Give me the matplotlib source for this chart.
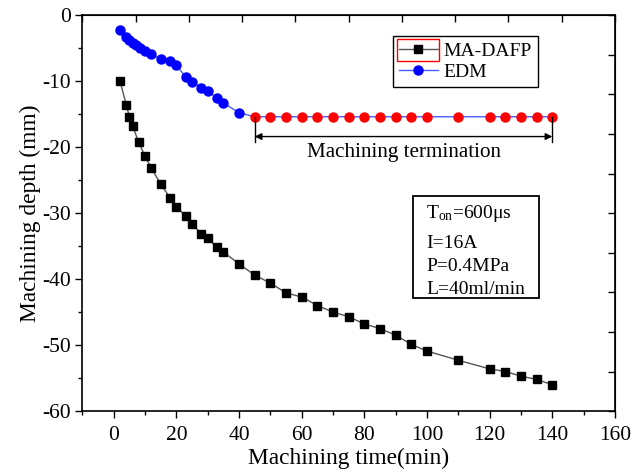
import numpy as np
import matplotlib
matplotlib.use("Agg")
import matplotlib.pyplot as plt
from matplotlib.patches import Rectangle

plt.rcParams['font.family'] = ['Liberation Serif', 'DejaVu Serif']
plt.rcParams['mathtext.fontset'] = 'custom'
plt.rcParams['mathtext.rm'] = 'Liberation Serif'
plt.rcParams['mathtext.it'] = 'Liberation Serif:italic'
plt.rcParams['axes.unicode_minus'] = False

# MA-DAFP data
t_dafp = [2, 4, 5, 6, 8, 10, 12, 15, 18, 20, 23, 25, 28, 30, 33, 35, 40, 45, 50, 55,
          60, 65, 70, 75, 80, 85, 90, 95, 100, 110, 120, 125, 130, 135, 140]
d_dafp = [-10.0, -13.6, -15.4, -16.8, -19.3, -21.4, -23.2, -25.6, -27.7, -29.0,
          -30.5, -31.7, -33.1, -33.8, -35.2, -35.9, -37.7, -39.4, -40.6, -42.1,
          -42.7, -44.0, -45.0, -45.7, -46.8, -47.5, -48.5, -49.9, -50.9, -52.3,
          -53.6, -54.0, -54.7, -55.2, -56.0]

# EDM data (machining part)
t_edm = [2, 4, 5, 6, 7, 8.5, 10, 12, 15, 18, 20, 23, 25, 28, 30, 33, 35, 40]
d_edm = [-2.3, -3.3, -3.8, -4.2, -4.5, -5.0, -5.4, -5.9, -6.7, -6.9, -7.6, -9.4,
         -10.1, -11.0, -11.5, -12.6, -13.3, -14.8]

# EDM after termination
t_stop = [45, 50, 55, 60, 65, 70, 75, 80, 85, 90, 95, 100, 110, 120, 125, 130, 135, 140]
d_stop = [-15.4] * len(t_stop)

params = ['T$_{\\rm on}$=600\u03bcs', 'I=16A', 'P=0.4MPa', 'L=40ml/min']
param_y = [-30.0, -34.6, -38.1, -41.5]

fig = plt.figure(figsize=(6.34, 4.72), dpi=100)
ax = fig.add_axes([0.130, 0.129, 0.840, 0.839])

ax.plot(t_dafp, d_dafp, color='#555555', lw=1, marker='s', ms=6,
        mfc='black', mec='black', label='MA-DAFP')
ax.plot(t_edm + t_stop, d_edm + d_stop, color='#4a5cff', lw=1, marker='o', ms=6.5,
        mfc='blue', mec='blue', markevery=list(range(len(t_edm))), label='EDM')
ax.plot(t_stop, d_stop, ls='none', marker='o', ms=6.5, mfc='red', mec='red')

# termination annotation
ax.plot([45, 45], [-15.4, -19.2], color='black', lw=1)
ax.plot([140, 140], [-15.4, -19.2], color='black', lw=1)
ax.annotate('', xy=(45, -18.4), xytext=(140, -18.4),
            arrowprops=dict(arrowstyle='<|-|>', color='black', lw=1,
                            mutation_scale=10, shrinkA=0, shrinkB=0))
ax.text(92.5, -20.8, 'Machining termination', ha='center', va='center', fontsize=15.2)

# parameter box
ax.add_patch(Rectangle((95.4, -42.9), 40.4, 15.5, fill=False, ec='black', lw=1.3))
for s, yy in zip(params, param_y):
    ax.text(99.8, yy, s, ha='left', va='center', fontsize=14)

ax.set_xlim(-10, 160)
ax.set_ylim(-60, 0)
ax.set_xticks(np.arange(0, 161, 20))
ax.set_xticks(np.arange(-10, 161, 10), minor=True)
ax.set_yticks(np.arange(-60, 1, 10))
ax.set_yticks(np.arange(-60, 1, 5), minor=True)
ax.tick_params(axis='both', which='major', direction='out', length=5, width=1,
               labelsize=15.5)
ax.tick_params(axis='x', which='major', pad=6)
ax.tick_params(axis='y', which='major', pad=3)
ax.tick_params(axis='both', which='minor', direction='out', length=3, width=1)
for sp in ax.spines.values():
    sp.set_linewidth(1.2)

# top / right axes with their own inward ticks
top = ax.secondary_xaxis('top')
top.set_xticks(np.arange(-10, 161, 17))
top.tick_params(direction='in', length=5, width=1, labeltop=False)
top.xaxis.set_minor_locator(matplotlib.ticker.NullLocator())
right = ax.secondary_yaxis('right')
right.set_yticks(np.arange(-60, 1, 6))
right.tick_params(direction='in', length=5, width=1, labelright=False)
right.yaxis.set_minor_locator(matplotlib.ticker.NullLocator())

ax.set_xlabel('Machining time(min)', fontsize=16.8, labelpad=2)
ax.set_ylabel('Machining depth (mm)', fontsize=16.8, labelpad=1)

leg = ax.legend(loc='upper left', bbox_to_anchor=(0.583, 0.947), fontsize=14,
                frameon=True, fancybox=False, framealpha=1, edgecolor='black',
                borderpad=0.3, handlelength=2.0, handletextpad=0.3,
                labelspacing=0.2, borderaxespad=0)
leg.get_frame().set_linewidth(1)
ax.add_patch(Rectangle((0.590, 0.885), 0.080, 0.055, transform=ax.transAxes,
                       fill=False, ec='red', lw=1, clip_on=False, zorder=10))

fig.savefig('out.png', dpi=100)
